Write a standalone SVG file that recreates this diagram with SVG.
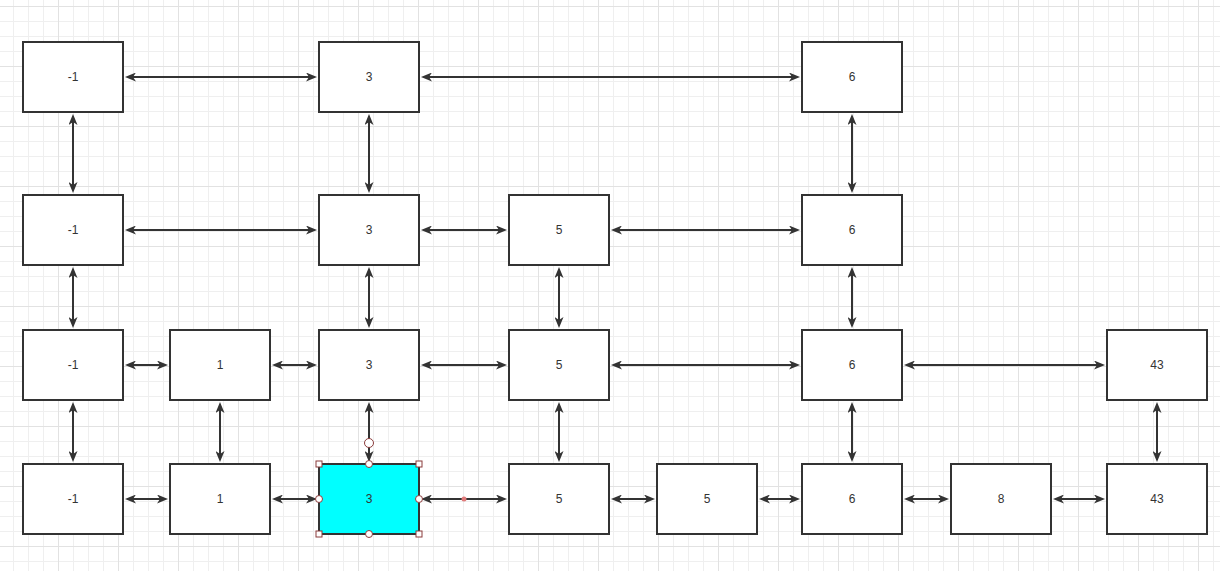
<svg xmlns="http://www.w3.org/2000/svg" width="1220" height="571" viewBox="0 0 1220 571">
<style>
.box{fill:#ffffff;stroke:#333333;stroke-width:2}
.sel{fill:#00ffff;stroke:#333333;stroke-width:2}
.lbl{font-family:"Liberation Sans",Arial,sans-serif;font-size:12px;fill:#333333;text-anchor:middle}
.e{stroke:#333333;stroke-width:2;fill:none;marker-start:url(#ah);marker-end:url(#ah)}
.h{fill:#ffffff;stroke:#8a3b3b;stroke-width:1}
</style>
<defs>
<marker id="ah" viewBox="0 0 11 9" markerUnits="userSpaceOnUse" markerWidth="11" markerHeight="9" refX="8" refY="4.5" orient="auto-start-reverse">
<path d="M0,0 L11,4.5 L0,9 L3,4.5 Z" fill="#333333"/>
</marker>
<pattern id="grid" x="58" y="6" width="60" height="60" patternUnits="userSpaceOnUse">
<path d="M15.5,0V60M30.5,0V60M45.5,0V60M0,15.5H60M0,30.5H60M0,45.5H60" stroke="#efefef" stroke-width="1" fill="none"/>
<path d="M0.5,0V60M0,0.5H60" stroke="#e2e2e2" stroke-width="1" fill="none"/>
</pattern>
</defs>
<rect x="0" y="0" width="1220" height="571" fill="#ffffff"/>
<rect x="0" y="0" width="1220" height="571" fill="url(#grid)"/>

<g id="connectors">
<line class="e" x1="128" y1="77" x2="314" y2="77"/>
<line class="e" x1="424" y1="77" x2="797" y2="77"/>
<line class="e" x1="73" y1="117" x2="73" y2="190"/>
<line class="e" x1="369" y1="117" x2="369" y2="190"/>
<line class="e" x1="852" y1="117" x2="852" y2="190"/>
<line class="e" x1="128" y1="230" x2="314" y2="230"/>
<line class="e" x1="424" y1="230" x2="504" y2="230"/>
<line class="e" x1="614" y1="230" x2="797" y2="230"/>
<line class="e" x1="73" y1="270" x2="73" y2="325"/>
<line class="e" x1="369" y1="270" x2="369" y2="325"/>
<line class="e" x1="559" y1="270" x2="559" y2="325"/>
<line class="e" x1="852" y1="270" x2="852" y2="325"/>
<line class="e" x1="128" y1="365" x2="165" y2="365"/>
<line class="e" x1="275" y1="365" x2="314" y2="365"/>
<line class="e" x1="424" y1="365" x2="504" y2="365"/>
<line class="e" x1="614" y1="365" x2="797" y2="365"/>
<line class="e" x1="907" y1="365" x2="1102" y2="365"/>
<line class="e" x1="73" y1="405" x2="73" y2="459"/>
<line class="e" x1="220" y1="405" x2="220" y2="459"/>
<line class="e" x1="369" y1="405" x2="369" y2="459"/>
<line class="e" x1="559" y1="405" x2="559" y2="459"/>
<line class="e" x1="852" y1="405" x2="852" y2="459"/>
<line class="e" x1="1157" y1="405" x2="1157" y2="459"/>
<line class="e" x1="128" y1="499" x2="165" y2="499"/>
<line class="e" x1="275" y1="499" x2="314" y2="499"/>
<line class="e" x1="424" y1="499" x2="504" y2="499"/>
<line class="e" x1="614" y1="499" x2="652" y2="499"/>
<line class="e" x1="762" y1="499" x2="797" y2="499"/>
<line class="e" x1="907" y1="499" x2="946" y2="499"/>
<line class="e" x1="1056" y1="499" x2="1102" y2="499"/>
</g>

<g id="n0_0"><rect class="box" x="23" y="42" width="100" height="70"/><text class="lbl" x="73" y="81">-1</text></g>
<g id="n0_2"><rect class="box" x="319" y="42" width="100" height="70"/><text class="lbl" x="369" y="81">3</text></g>
<g id="n0_5"><rect class="box" x="802" y="42" width="100" height="70"/><text class="lbl" x="852" y="81">6</text></g>

<g id="n1_0"><rect class="box" x="23" y="195" width="100" height="70"/><text class="lbl" x="73" y="234">-1</text></g>
<g id="n1_2"><rect class="box" x="319" y="195" width="100" height="70"/><text class="lbl" x="369" y="234">3</text></g>
<g id="n1_3"><rect class="box" x="509" y="195" width="100" height="70"/><text class="lbl" x="559" y="234">5</text></g>
<g id="n1_5"><rect class="box" x="802" y="195" width="100" height="70"/><text class="lbl" x="852" y="234">6</text></g>

<g id="n2_0"><rect class="box" x="23" y="330" width="100" height="70"/><text class="lbl" x="73" y="369">-1</text></g>
<g id="n2_1"><rect class="box" x="170" y="330" width="100" height="70"/><text class="lbl" x="220" y="369">1</text></g>
<g id="n2_2"><rect class="box" x="319" y="330" width="100" height="70"/><text class="lbl" x="369" y="369">3</text></g>
<g id="n2_3"><rect class="box" x="509" y="330" width="100" height="70"/><text class="lbl" x="559" y="369">5</text></g>
<g id="n2_5"><rect class="box" x="802" y="330" width="100" height="70"/><text class="lbl" x="852" y="369">6</text></g>
<g id="n2_7"><rect class="box" x="1107" y="330" width="100" height="70"/><text class="lbl" x="1157" y="369">43</text></g>

<g id="n3_0"><rect class="box" x="23" y="464" width="100" height="70"/><text class="lbl" x="73" y="503">-1</text></g>
<g id="n3_1"><rect class="box" x="170" y="464" width="100" height="70"/><text class="lbl" x="220" y="503">1</text></g>
<g id="n3_2"><rect class="sel" x="319" y="464" width="100" height="70"/><text class="lbl" x="369" y="503">3</text></g>
<g id="n3_3"><rect class="box" x="509" y="464" width="100" height="70"/><text class="lbl" x="559" y="503">5</text></g>
<g id="n3_4"><rect class="box" x="657" y="464" width="100" height="70"/><text class="lbl" x="707" y="503">5</text></g>
<g id="n3_5"><rect class="box" x="802" y="464" width="100" height="70"/><text class="lbl" x="852" y="503">6</text></g>
<g id="n3_6"><rect class="box" x="951" y="464" width="100" height="70"/><text class="lbl" x="1001" y="503">8</text></g>
<g id="n3_7"><rect class="box" x="1107" y="464" width="100" height="70"/><text class="lbl" x="1157" y="503">43</text></g>

<g id="selection-handles">
<rect class="h" x="316" y="461" width="6" height="6"/>
<rect class="h" x="416" y="461" width="6" height="6"/>
<rect class="h" x="316" y="531" width="6" height="6"/>
<rect class="h" x="416" y="531" width="6" height="6"/>
<circle class="h" cx="369" cy="464" r="3.5"/>
<circle class="h" cx="369" cy="534" r="3.5"/>
<circle class="h" cx="319" cy="499" r="3.5"/>
<circle class="h" cx="419" cy="499" r="3.5"/>
<circle class="h" cx="369" cy="443" r="4.5"/>
<circle cx="464" cy="499" r="2.5" fill="#e07a7a"/>
</g>
</svg>
